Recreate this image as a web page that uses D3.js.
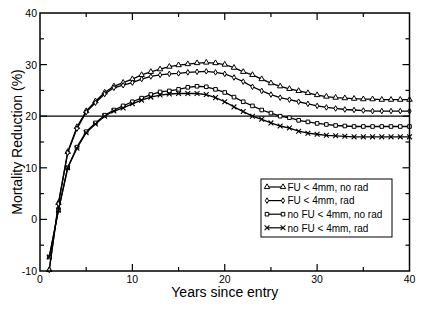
<!DOCTYPE html>
<html>
<head>
  <meta charset='utf-8'>
  <title>Mortality Reduction</title>
  <script src='https://cdn.jsdelivr.net/npm/d3@7'></script>
  <style>
    body { margin: 0; background: #fff; }
  </style>
</head>
<body>
  <script>
    // years since entry, 1..40
    const years = [1,2,3,4,5,6,7,8,9,10,11,12,13,14,15,16,17,18,19,20,21,22,23,24,25,26,27,28,29,30,31,32,33,34,35,36,37,38,39,40];

    const fuNoRad = [-9.8,3.2,13.1,17.9,21.0,22.9,24.6,25.8,26.5,27.2,28.0,28.6,29.1,29.6,29.9,30.1,30.3,30.4,30.3,30.0,29.4,28.6,28.0,27.2,26.4,25.8,25.3,24.9,24.5,24.1,23.8,23.6,23.5,23.4,23.3,23.3,23.2,23.2,23.2,23.2];
    const fuRad = [-9.8,3.0,12.9,17.6,20.8,22.6,24.3,25.5,26.0,26.5,27.2,27.7,28.0,28.2,28.3,28.5,28.6,28.7,28.5,28.2,27.5,26.7,25.7,24.9,24.2,23.6,23.2,22.8,22.4,22.0,21.7,21.5,21.3,21.2,21.1,21.0,21.0,21.0,21.0,21.0];
    const noFuNoRad = [-7.3,1.8,10.0,14.0,17.0,18.7,20.2,21.2,22.0,22.8,23.5,24.2,24.7,24.9,25.2,25.6,25.8,25.7,25.2,24.6,23.7,22.8,22.0,21.2,20.6,20.0,19.7,19.2,18.9,18.6,18.4,18.2,18.1,18.0,18.0,18.0,18.0,18.0,18.0,18.0];
    const noFuRad = [-7.3,1.8,10.0,13.8,16.8,18.5,20.0,21.0,21.6,22.4,23.1,23.7,24.1,24.3,24.4,24.4,24.4,24.2,23.6,22.8,21.8,20.9,20.0,19.4,18.7,18.1,17.7,17.1,16.7,16.5,16.3,16.2,16.1,16.0,16.0,16.0,16.0,16.0,16.0,16.0];

    const seriesNames = ['FU < 4mm, no rad', 'FU < 4mm, rad', 'no FU < 4mm, no rad', 'no FU < 4mm, rad'];
    const seriesValues = [fuNoRad, fuRad, noFuNoRad, noFuRad];
    const markers = ['triangle', 'diamond', 'square', 'cross'];

    const xTicks = [0, 10, 20, 30, 40];
    const yTicks = [-10, 0, 10, 20, 30, 40];
    const refLine = 20;

    const width = 425, height = 310;
    const margin = { top: 13, right: 15.5, bottom: 39, left: 40 };
    const innerWidth = width - margin.left - margin.right;
    const innerHeight = height - margin.top - margin.bottom;

    const svg = d3.select('body').append('svg')
      .attr('width', width)
      .attr('height', height)
      .style('font-family', '"Liberation Sans", Arial, sans-serif');

    const g = svg.append('g')
      .attr('transform', `translate(${margin.left},${margin.top})`);

    const x = d3.scaleLinear().domain([0, 40]).range([0, innerWidth]);
    const y = d3.scaleLinear().domain([-10, 40]).range([innerHeight, 0]);

    // reference line
    g.append('line')
      .attr('x1', 0).attr('x2', innerWidth)
      .attr('y1', y(refLine)).attr('y2', y(refLine))
      .attr('stroke', '#000').attr('stroke-width', 1.3);

    // ticks (inward, on all four sides)
    const minorX = d3.range(5, 40, 10);
    const minorY = d3.range(-5, 40, 10);
    const tickG = g.append('g').attr('stroke', '#000').attr('stroke-width', 1.2);
    xTicks.slice(1, -1).forEach(v => {
      tickG.append('line').attr('x1', x(v)).attr('x2', x(v)).attr('y1', innerHeight).attr('y2', innerHeight - 7);
      tickG.append('line').attr('x1', x(v)).attr('x2', x(v)).attr('y1', 0).attr('y2', 7);
    });
    minorX.forEach(v => {
      tickG.append('line').attr('x1', x(v)).attr('x2', x(v)).attr('y1', innerHeight).attr('y2', innerHeight - 4);
      tickG.append('line').attr('x1', x(v)).attr('x2', x(v)).attr('y1', 0).attr('y2', 4);
    });
    yTicks.slice(1, -1).forEach(v => {
      tickG.append('line').attr('x1', 0).attr('x2', 7).attr('y1', y(v)).attr('y2', y(v));
      tickG.append('line').attr('x1', innerWidth).attr('x2', innerWidth - 7).attr('y1', y(v)).attr('y2', y(v));
    });
    minorY.forEach(v => {
      tickG.append('line').attr('x1', 0).attr('x2', 4).attr('y1', y(v)).attr('y2', y(v));
      tickG.append('line').attr('x1', innerWidth).attr('x2', innerWidth - 4).attr('y1', y(v)).attr('y2', y(v));
    });

    // tick labels
    g.append('g').selectAll('text').data(xTicks).join('text')
      .attr('x', d => x(d)).attr('y', innerHeight + 12)
      .attr('text-anchor', 'middle').attr('font-size', 10.5)
      .text(d => d);
    g.append('g').selectAll('text').data(yTicks).join('text')
      .attr('x', -3).attr('y', d => y(d) + 4)
      .attr('text-anchor', 'end').attr('font-size', 10.5)
      .text(d => d);

    // series
    const line = d3.line().x((d, i) => x(years[i])).y(d => y(d));
    const sym = {
      triangle: d3.symbol().type(d3.symbolTriangle).size(13),
      diamond: d3.symbol().type(d3.symbolDiamond).size(9),
      square: d3.symbol().type(d3.symbolSquare).size(13)
    };

    function drawMarker(sel, type, cx, cy) {
      if (type === 'cross') {
        sel.append('path')
          .attr('d', `M${cx - 2.4},${cy - 2.4}L${cx + 2.4},${cy + 2.4}M${cx - 2.4},${cy + 2.4}L${cx + 2.4},${cy - 2.4}`)
          .attr('stroke', '#000').attr('stroke-width', 1.1).attr('fill', 'none');
      } else {
        sel.append('path')
          .attr('d', sym[type]())
          .attr('transform', `translate(${cx},${cy})`)
          .attr('fill', '#fff').attr('stroke', '#000').attr('stroke-width', 1);
      }
    }

    seriesValues.forEach((vals, k) => {
      g.append('path').datum(vals)
        .attr('d', line)
        .attr('fill', 'none').attr('stroke', '#000').attr('stroke-width', 1.3);
      const mg = g.append('g');
      vals.forEach((v, i) => drawMarker(mg, markers[k], x(years[i]), y(v)));
    });

    // frame
    g.append('rect')
      .attr('width', innerWidth).attr('height', innerHeight)
      .attr('fill', 'none').attr('stroke', '#000').attr('stroke-width', 1.5);

    // legend
    const lg = svg.append('g').attr('transform', 'translate(261,179)');
    lg.append('rect').attr('width', 131).attr('height', 58)
      .attr('fill', '#fff').attr('stroke', '#000').attr('stroke-width', 1);
    seriesNames.forEach((name, k) => {
      const ry = 8 + k * 13.6;
      lg.append('line').attr('x1', 6).attr('x2', 22).attr('y1', ry).attr('y2', ry)
        .attr('stroke', '#000').attr('stroke-width', 1.2);
      drawMarker(lg, markers[k], 6, ry);
      drawMarker(lg, markers[k], 22, ry);
      lg.append('text').attr('x', 26.5).attr('y', ry + 3.8)
        .attr('font-size', 10).text(name);
    });

    // axis titles
    svg.append('text')
      .attr('x', margin.left + innerWidth / 2).attr('y', 297)
      .attr('text-anchor', 'middle').attr('font-size', 14)
      .text('Years since entry');
    svg.append('text')
      .attr('transform', `translate(22,${margin.top + innerHeight / 2}) rotate(-90)`)
      .attr('text-anchor', 'middle').attr('font-size', 14)
      .text('Mortality Reduction (%)');
  </script>
</body>
</html>
